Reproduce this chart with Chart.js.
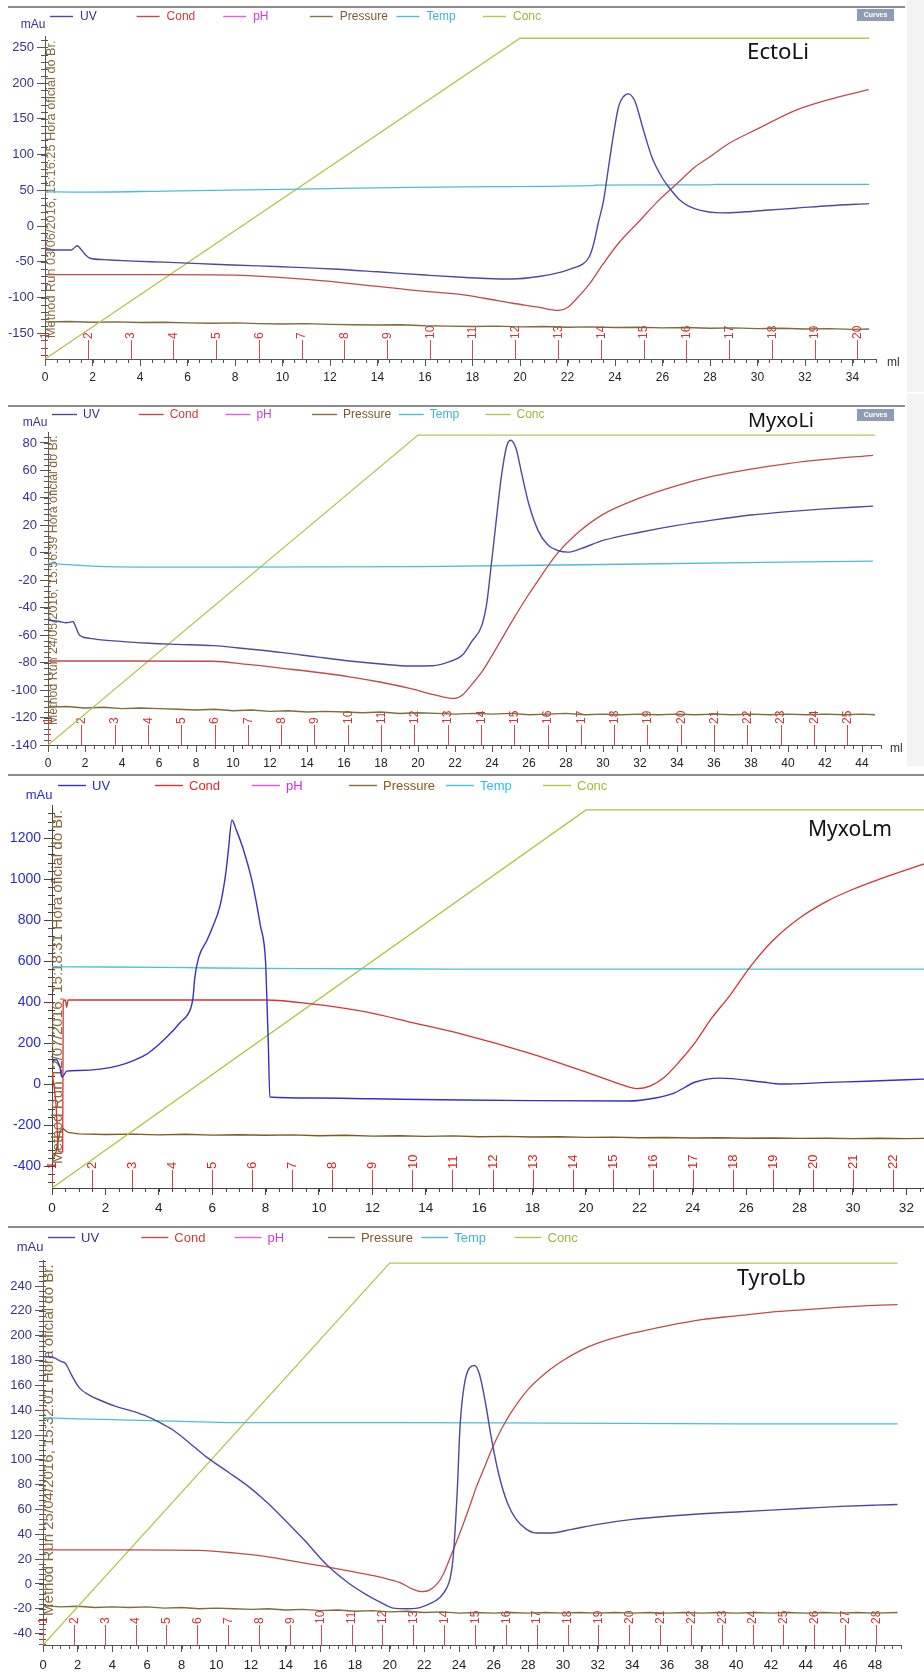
<!DOCTYPE html>
<html><head><meta charset="utf-8">
<script src="https://cdn.jsdelivr.net/npm/chart.js@4.4.1/dist/chart.umd.min.js"></script>
<style>
html,body{margin:0;padding:0;background:#fff}
body{width:924px;height:1675px;position:relative;overflow:hidden}
canvas{position:absolute;left:0}
.strip{position:absolute;left:907px;width:17px;background:#f3f3f3}
</style></head><body>
<div class="strip" style="top:0;height:392px"></div>
<div class="strip" style="top:394px;height:372px"></div>
<canvas id="c1"></canvas>
<canvas id="c2"></canvas>
<canvas id="c3"></canvas>
<canvas id="c4"></canvas>
<script>
// ======================= DATA =======================
const legendNames = ['UV','Cond','pH','Pressure','Temp','Conc'];

// ---- EctoLi ----
const ectoXTicks = [0,2,4,6,8,10,12,14,16,18,20,22,24,26,28,30,32,34];
const ectoYTicks = [-150,-100,-50,0,50,100,150,200,250];
const ectoFracs = [0,1.8,3.6,5.4,7.2,9,10.8,12.6,14.4,16.2,18,19.8,21.6,23.4,25.2,27,28.8,30.6,32.4,34.2];
const ectoUV = [[0,-33.5],[1.1,-33.5],[1.25,-30],[1.36,-27.5],[1.5,-32],[1.7,-40],[1.9,-45],[2.5,-47],[3.7,-49],[5,-50.5],[6.5,-52.5],[7.9,-54.5],[10,-57],[12.1,-60],[14,-64],[16,-68.5],[17.56,-71.7],[18.6,-73.3],[19.66,-74],[20.8,-70.5],[21.77,-64],[22.3,-58],[22.6,-54],[22.9,-44],[23.1,-25],[23.3,5],[23.52,36],[23.73,83],[23.94,129],[24.15,167],[24.35,181],[24.58,185],[24.75,180],[24.85,174],[25.2,134],[25.56,96],[25.98,68],[26.3,53],[26.74,36],[27.1,28],[27.6,22],[28.4,18.5],[29.5,20],[30.5,22.5],[31.6,25],[33,28.5],[34.7,31.5]];
const ectoCond = [[0,-68],[5,-68],[8,-68.5],[9,-70],[10,-72],[11,-74.5],[12,-77.5],[13,-81],[14,-84.5],[15,-88],[16,-91.5],[17.56,-96],[18.5,-101],[19.7,-108],[20.7,-113],[21.63,-118],[22.0,-114],[22.4,-101],[22.9,-82],[23.5,-53],[24.15,-24],[25.0,6],[25.84,36],[26.5,56],[27.38,83],[28.0,97],[28.79,115.5],[30,136],[31.6,162],[33,177],[34.68,191]];
const ectoTemp = [[0,48],[1.5,47.5],[5,49],[10,51.5],[17.56,55],[23,56.5],[23.2,57.3],[28,57.8],[28.2,58.3],[34.7,58.3]];
const ectoPressure = [[0,-134],[1,-133.5],[2,-134.5],[3,-134],[4,-135],[5,-134.5],[6,-135.5],[7,-136],[8,-135.5],[9,-136.5],[10,-137],[11,-136.5],[12,-137.5],[13,-138],[14,-138.5],[15,-138],[16,-139.5],[17,-140],[18,-140.5],[19,-140],[20,-141],[21,-140.5],[22,-141.5],[23,-141],[24,-142],[25,-141.5],[26,-142.5],[27,-142],[28,-143],[29,-142.5],[30,-143.5],[31,-143],[32,-144],[33,-143.5],[34,-144.5],[34.7,-144]];
const ectoConc = [[0,0],[20,100],[34.7,100]];

// ---- MyxoLi ----
const myxoLiXTicks = [0,2,4,6,8,10,12,14,16,18,20,22,24,26,28,30,32,34,36,38,40,42,44];
const myxoLiYTicks = [-140,-120,-100,-80,-60,-40,-20,0,20,40,60,80];
const myxoLiFracs = [0,1.8,3.6,5.4,7.2,9,10.8,12.6,14.4,16.2,18,19.8,21.6,23.4,25.2,27,28.8,30.6,32.4,34.2,36,37.8,39.6,41.4,43.2];
const myxoLiUV = [[0,-49],[0.6,-50],[1.0,-51],[1.2,-50.5],[1.35,-50],[1.5,-54],[1.71,-60],[2.26,-62.3],[3.35,-64],[5.5,-65.9],[7,-66.7],[8.92,-67.6],[10.8,-70],[12.7,-72.7],[14.5,-75.8],[16.3,-78.8],[18,-81],[19.56,-82.5],[20.8,-82.3],[21.7,-79.3],[22.4,-74.5],[22.9,-64.7],[23.46,-52.5],[23.73,-35.5],[23.9,-16],[24.2,20],[24.5,55],[24.8,78],[25.0,82],[25.3,76],[25.6,58],[26.0,35],[26.5,16],[27.0,6],[27.6,1.5],[28.1,0.5],[28.8,3],[30,9],[32,15],[34,20],[36,24],[38,27.5],[40,30],[42,32],[44.6,34]];
const myxoLiCond = [[0,-78.8],[4,-78.8],[8.92,-79],[10.8,-81.3],[12.7,-84.2],[14.5,-87],[16.3,-90.3],[18,-94.3],[19.56,-98.8],[20.6,-102.5],[21.6,-105.6],[22.0,-106],[22.4,-103.6],[22.9,-96],[23.46,-86.6],[24.3,-68],[25.08,-50],[25.9,-32],[26.7,-16],[27.5,-1],[28.5,13],[30,28],[32,40],[34,49],[36,56],[38,61],[40,65],[42,68],[44.6,71]];
const myxoLiTemp = [[0,-7.5],[1.5,-9],[3,-10],[10,-10.5],[20,-10],[30,-8.5],[44.6,-6]];
const myxoLiPressure = [[0,-112.5],[1,-112],[2,-113],[3,-112.5],[4,-113.5],[5,-113],[6,-113.5],[7,-114],[8,-114.5],[9,-114],[10,-115],[11,-114.5],[12,-115.5],[13,-115],[14,-116],[15,-115.5],[16,-116],[17,-116.5],[18,-116],[19,-117],[20,-116.5],[21,-117],[22,-117.5],[23,-117],[24,-117.5],[25,-117],[26,-118],[27,-117.5],[28,-117],[29,-118],[30,-117.5],[31,-118],[32,-117.5],[33,-118],[34,-117.5],[35,-118],[36,-117.5],[37,-118],[38,-117.5],[39,-118],[40,-117.5],[41,-118],[42,-117.5],[43,-118],[44,-117.5],[44.7,-118]];
const myxoLiConc = [[0,0],[20,100],[44.7,100]];

// ---- MyxoLm ----
const myxoLmXTicks = [0,2,4,6,8,10,12,14,16,18,20,22,24,26,28,30,32];
const myxoLmYTicks = [-400,-200,0,200,400,600,800,1000,1200];
const myxoLmFracs = [0,1.5,3,4.5,6,7.5,9,10.5,12,13.5,15,16.5,18,19.5,21,22.5,24,25.5,27,28.5,30,31.5];
const myxoLmUV = [[0,110],[0.15,120],[0.3,80],[0.37,34],[0.45,45],[0.55,63],[1.0,66],[1.8,73],[2.5,90],[3.0,112],[3.6,150],[4.3,229],[4.8,300],[5.2,371],[5.28,420],[5.35,520],[5.5,620],[5.8,700],[6.0,761],[6.3,873],[6.5,1020],[6.6,1132],[6.74,1288],[6.9,1240],[7.15,1151],[7.5,985],[7.8,776],[8.0,595],[8.04,449],[8.1,205],[8.16,-63],[9.8,-68],[12,-72],[15.35,-78],[18,-81],[21.6,-83],[22.6,-68],[23.3,-44],[24.1,10],[25.0,29],[26.6,10],[27.3,0],[29.1,8],[30.5,14],[32.7,24]];
const myxoLmCond = [[0,60],[0.15,-100],[0.25,-330],[0.4,-332],[0.42,405],[0.5,410],[0.55,375],[0.6,410],[3,410],[6,410],[8,410],[9.8,390],[11.8,351],[13.5,300],[15.35,244],[17.9,150],[20.3,45],[21.5,-10],[21.9,-22],[22.4,-10],[22.9,29],[23.5,110],[24.1,205],[24.7,320],[25.4,434],[26.2,580],[27,700],[28,810],[29,890],[30,950],[31,1000],[32,1045],[32.7,1075]];
const myxoLmTemp = [[0,572],[2,571],[4,569],[6,566],[8,564],[10,563],[15,561],[20,561],[25,561],[32.7,561]];
const myxoLmPressure = [[0,-380],[0.15,-330],[0.3,-230],[0.4,-215],[0.6,-236],[1,-243],[2,-246],[3,-244],[4,-248],[5,-245],[6,-249],[7,-247],[8,-250],[9,-248],[10,-252],[11,-250],[12,-254],[13,-252],[14,-255],[15,-253],[16,-257],[17,-255],[18,-258],[19,-257],[20,-260],[21,-259],[22,-262],[23,-261],[24,-263],[25,-262],[26,-264],[27,-263],[28,-265],[29,-264],[30,-266],[31,-264],[32,-266],[32.7,-265]];
const myxoLmConc = [[0,0],[20,100],[32.7,100]];

// ---- TyroLb ----
const tyroXTicks = [0,2,4,6,8,10,12,14,16,18,20,22,24,26,28,30,32,34,36,38,40,42,44,46,48];
const tyroYTicks = [-40,-20,0,20,40,60,80,100,120,140,160,180,200,220,240];
const tyroFracs = [0,1.78,3.56,5.34,7.12,8.9,10.68,12.46,14.24,16.02,17.8,19.58,21.36,23.14,24.92,26.7,28.48,30.26,32.04,33.82,35.6,37.38,39.16,40.94,42.72,44.5,46.28,48.06];
const tyroUV = [[0,183],[0.4,183],[1.1,179],[1.27,178],[1.45,174],[1.66,168],[2.1,158],[2.7,152],[3.3,148],[4.2,143],[5.2,139],[6.0,135],[6.75,130],[7.5,124],[8.5,113],[9.46,102],[10.7,90],[11.9,78],[12.9,66],[13.85,53],[15.1,35],[16.4,15],[17.6,1],[18.7,-9],[19.5,-15],[20.2,-19.5],[21.0,-20],[21.6,-19.5],[22.3,-16],[22.9,-11],[23.3,-3],[23.5,5],[23.66,21],[23.9,75],[24.06,127],[24.3,160],[24.6,174],[24.9,176],[25.2,168],[25.5,148],[25.9,115],[26.3,88],[26.8,65],[27.3,52],[27.9,44],[28.5,41],[29.3,41],[30.5,44],[32,48],[34,52],[36,54.5],[38,56.5],[40,58],[42,59.5],[44,61],[46,62.5],[48,63.5],[49.3,64]];
const tyroCond = [[0,27.5],[5,27.5],[9,27],[11,25],[12.9,22],[15,17],[16.7,13],[18,9.5],[19.6,5],[20.6,1],[21.3,-4],[21.85,-6.2],[22.3,-5],[22.8,1],[23.1,8],[23.4,18],[23.8,32],[24.16,45],[24.6,62],[25,78],[25.5,95],[26,112],[26.5,126],[27,138],[28,157],[29,170],[30,180],[31,188],[32,194],[34,202],[36,208],[38,213],[40,216],[42,219],[44,221],[46,223],[48,224.5],[49.3,225]];
const tyroTemp = [[0,134],[2,133],[5,132],[8,131],[11,130],[20,130],[30,129.5],[40,129],[49.3,129]];
const tyroPressure = [[0,-17.5],[1,-18.5],[2,-18],[3,-19],[4,-18.5],[5,-19],[6,-18.5],[7,-19.5],[8,-19],[9,-20],[10,-19.5],[11,-20],[12,-20.5],[13,-20],[14,-21],[15,-20.5],[16,-21.5],[17,-21],[18,-22],[19,-21.5],[20,-22.5],[21,-22],[22,-23],[23,-22.5],[24,-23.5],[25,-23],[26,-23.5],[27,-23],[28,-23.5],[29,-23],[30,-23.5],[31,-23],[32,-23.5],[33,-23],[34,-23.5],[35,-23],[36,-23.5],[37,-23],[38,-23.5],[39,-23],[40,-23.5],[41,-23],[42,-23.5],[43,-23],[44,-23.5],[45,-23],[46,-23.5],[47,-23],[48,-23.5],[49.3,-23]];
const tyroConc = [[0,0],[20,100],[49.3,100]];

// ======================= RENDERING =======================
const FONT = '"Liberation Sans", Arial, sans-serif';
const TFONT = '"Noto Sans", "Open Sans", sans-serif';
Chart.defaults.font.family = FONT;

const palA = {uv:'#4a4a9e', cond:'#c24a4a', ph:'#e060e0', pres:'#7e6c3c', temp:'#4dbdd6', conc:'#b2c64e',
  leg:['#2f2f85','#cc3b3b','#d23cd2','#7b5a2e','#3fb4cf','#9cb53a'],
  legLine:['#4a4a9e','#c24a4a','#e060e0','#8a7048','#4dbdd6','#b2c64e'], yc:'#34348c', frac:'#d03434', fracLine:'#c85050'};
const palB = {uv:'#3232c8', cond:'#d93333', ph:'#e050e0', pres:'#7b5c22', temp:'#45c3e2', conc:'#a6c83a',
  leg:['#2828c8','#e02828','#d828d8','#8a5a18','#30c0e0','#98c030'],
  legLine:['#3232c8','#d93333','#e050e0','#8a6a3a','#45c3e2','#a6c83a'], yc:'#2a2ad0', frac:'#e02020', fracLine:'#e03a3a'};

function fitSize(ctx, text, family, target, base){
  ctx.font = base + 'px ' + family;
  const w = ctx.measureText(text).width;
  return base * target / w;
}

function deco(P){
  const T = P.top;
  return {
    id: 'deco',
    beforeDatasetsDraw(chart){
      const c = chart.ctx, xs = chart.scales.x, ys = chart.scales.y, a = chart.chartArea;
      c.save();
      c.strokeStyle = P.axisColor; c.lineWidth = 1;
      c.beginPath();
      for (let k = 0; k * P.xMinor <= P.xMax + 1e-6; k++) {
        const px = Math.round(xs.getPixelForValue(k * P.xMinor)) + 0.5;
        c.moveTo(px, a.bottom); c.lineTo(px, a.bottom + 4);
      }
      const k0 = Math.ceil(P.yMinorFrom / P.yMinor), k1 = Math.floor(P.yMinorTo / P.yMinor);
      for (let k = k0; k <= k1; k++) {
        const py = Math.round(ys.getPixelForValue(k * P.yMinor)) + 0.5;
        c.moveTo(a.left - 4, py); c.lineTo(a.left + 3, py);
      }
      c.stroke();
      c.strokeStyle = P.pal.fracLine; c.lineWidth = 1;
      c.beginPath();
      P.fracs.forEach(f => {
        const px = Math.round(xs.getPixelForValue(f)) + 0.5;
        c.moveTo(px, a.bottom); c.lineTo(px, a.bottom - P.fracLen);
      });
      c.stroke();
      c.fillStyle = P.pal.frac; c.font = P.fracSize + 'px ' + FONT;
      c.textAlign = 'left'; c.textBaseline = 'middle';
      P.fracs.forEach((f, i) => {
        const px = xs.getPixelForValue(f);
        c.save(); c.translate(px + 0.5, a.bottom - P.fracLen - 1); c.rotate(-Math.PI / 2);
        c.fillText(String(i + 1), 0, 0); c.restore();
      });
      const rs = fitSize(c, P.runText, FONT, P.runLen, 12);
      c.font = rs + 'px ' + FONT; c.fillStyle = '#8a6a3c'; c.textBaseline = 'alphabetic'; c.textAlign = 'left';
      c.save(); c.translate(P.runX, P.runY - T); c.rotate(-Math.PI / 2); c.fillText(P.runText, 0, 0); c.restore();
      c.restore();
    },
    afterDraw(chart){
      const c = chart.ctx;
      c.save();
      c.strokeStyle = '#8c8c8c'; c.lineWidth = 2;
      c.beginPath(); c.moveTo(P.border.x0, P.border.y - T); c.lineTo(P.border.x1, P.border.y - T); c.stroke();
      c.textBaseline = 'middle'; c.textAlign = 'left'; c.font = P.leg.size + 'px ' + FONT;
      legendNames.forEach((n, i) => {
        const x = P.leg.x + i * P.leg.step, y = P.leg.y - T;
        c.strokeStyle = P.pal.legLine[i]; c.lineWidth = 1.4;
        c.beginPath(); c.moveTo(x, y + 0.5); c.lineTo(x + P.leg.len, y + 0.5); c.stroke();
        c.fillStyle = P.pal.leg[i]; c.fillText(n, x + P.leg.len + P.leg.gap, y + 1);
      });
      c.fillStyle = P.pal.yc; c.font = P.mau.size + 'px ' + FONT; c.textAlign = 'center';
      c.fillText('mAu', P.mau.x, P.mau.y - T);
      if (P.ml) { c.fillStyle = '#333'; c.font = '12px ' + FONT; c.textAlign = 'left'; c.fillText('ml', P.ml.x, P.ml.y - T); }
      const ts = fitSize(c, P.title.text, TFONT, P.title.w, 20);
      c.fillStyle = '#111'; c.font = ts + 'px ' + TFONT; c.textAlign = 'left'; c.textBaseline = 'middle';
      c.fillText(P.title.text, P.title.x, P.title.y - T);
      if (P.curves) {
        c.fillStyle = '#8e9cb6'; c.fillRect(P.curves.x, P.curves.y - T, P.curves.w, P.curves.h);
        c.fillStyle = '#ffffff'; c.font = 'bold 7px ' + FONT; c.textAlign = 'center';
        c.fillText('Curves', P.curves.x + P.curves.w / 2, P.curves.y - T + P.curves.h / 2 + 0.5);
      }
      c.restore();
    }
  };
}

function build(P){
  const cv = document.getElementById(P.id);
  cv.width = P.cw; cv.height = P.ch;
  cv.style.width = P.cw + 'px'; cv.style.height = P.ch + 'px'; cv.style.top = P.top + 'px';
  const A = P.area, T = P.top;
  const mk = (label, data, color, w, axis, smooth) => ({label, data, borderColor: color, borderWidth: w,
    pointRadius: 0, fill: false, tension: 0, cubicInterpolationMode: smooth ? 'monotone' : 'default', yAxisID: axis});
  const S = P.data, pal = P.pal;
  const datasets = [
    mk('UV', S.uv, pal.uv, 1.4, 'y', true),
    mk('Cond', S.cond, pal.cond, 1.3, 'y', true),
    mk('pH', [], pal.ph, 1.3, 'y', false),
    mk('Temp', S.temp, pal.temp, 1.3, 'y', true),
    mk('Conc', S.conc, pal.conc, 1.3, 'yc', false),
    mk('Pressure', S.pres, pal.pres, 1.4, 'y', false)
  ];
  return new Chart(cv, {
    type: 'line',
    data: {datasets},
    options: {
      responsive: false, animation: false, devicePixelRatio: 1, events: [],
      layout: {padding: {top: A.top - T, right: P.cw - A.right, left: 0, bottom: 0}},
      plugins: {legend: {display: false}, tooltip: {enabled: false}},
      scales: {
        x: {type: 'linear', min: 0, max: P.xMax,
          afterFit: s => { s.height = P.ch - (A.bottom - T); },
          afterBuildTicks: s => { s.ticks = P.xTicks.map(v => ({value: v})); },
          ticks: {color: '#222', font: {size: P.xFont}, padding: P.xPad, maxRotation: 0, autoSkip: false, callback: v => String(v)},
          grid: {display: true, drawOnChartArea: false, drawTicks: true, tickLength: 7, color: P.axisColor},
          border: {display: true, color: P.axisColor, width: 1}},
        y: {type: 'linear', min: P.yMin, max: P.yMax,
          afterFit: s => { s.width = A.left; },
          afterBuildTicks: s => { s.ticks = P.yTicks.map(v => ({value: v})); },
          ticks: {color: pal.yc, font: {size: P.yFont}, padding: 3, autoSkip: false, callback: v => String(v)},
          grid: {display: true, drawOnChartArea: false, drawTicks: true, tickLength: 8, color: P.axisColor},
          border: {display: true, color: P.axisColor, width: 1}},
        yc: {type: 'linear', display: false, position: 'right', min: 0, max: P.concMax, afterFit: s => { s.width = 0; }}
      }
    },
    plugins: [deco(P)]
  });
}

build({
  id: 'c1', top: 0, cw: 924, ch: 392, pal: palA, axisColor: '#555',
  area: {left: 45, top: 36, right: 876.25, bottom: 359},
  xMax: 35, xTicks: ectoXTicks, xMinor: 0.5, xFont: 12, xPad: 4,
  yMin: -186, yMax: 266, yTicks: ectoYTicks, yMinor: 10, yMinorFrom: -180, yMinorTo: 262, yFont: 13,
  concMax: 100.7,
  data: {uv: ectoUV, cond: ectoCond, temp: ectoTemp, pres: ectoPressure, conc: ectoConc},
  fracs: ectoFracs, fracLen: 19, fracSize: 12,
  runText: 'Method Run 03/06/2016, 15:16:25 Hora oficial do Br.', runX: 55, runY: 338, runLen: 298,
  border: {y: 7, x0: 8, x1: 905},
  leg: {x: 50, y: 16, step: 86.6, len: 23, gap: 7, size: 12},
  mau: {x: 33, y: 25, size: 12},
  ml: {x: 887, y: 363},
  title: {text: 'EctoLi', x: 747, y: 53, w: 62},
  curves: {x: 857, y: 9, w: 37, h: 12}
});

build({
  id: 'c2', top: 394, cw: 924, ch: 380, pal: palA, axisColor: '#555',
  area: {left: 48, top: 432, right: 880.5, bottom: 745},
  xMax: 45, xTicks: myxoLiXTicks, xMinor: 0.5, xFont: 12, xPad: 4,
  yMin: -140, yMax: 88, yTicks: myxoLiYTicks, yMinor: 4, yMinorFrom: -140, yMinorTo: 86, yFont: 13,
  concMax: 101,
  data: {uv: myxoLiUV, cond: myxoLiCond, temp: myxoLiTemp, pres: myxoLiPressure, conc: myxoLiConc},
  fracs: myxoLiFracs, fracLen: 20, fracSize: 12,
  runText: 'Method Run 24/05/2016, 15:56:39 Hora oficial do Br.', runX: 57, runY: 725, runLen: 290,
  border: {y: 406, x0: 8, x1: 905},
  leg: {x: 52, y: 414, step: 86.7, len: 25, gap: 6, size: 12},
  mau: {x: 35, y: 423, size: 12},
  ml: {x: 890, y: 749},
  title: {text: 'MyxoLi', x: 748, y: 421, w: 66},
  curves: {x: 857, y: 409, w: 37, h: 12}
});

build({
  id: 'c3', top: 767, cw: 950, ch: 455, pal: palB, axisColor: '#444',
  area: {left: 52, top: 805, right: 924, bottom: 1188},
  xMax: 32.66, xTicks: myxoLmXTicks, xMinor: 0.5, xFont: 13.5, xPad: 5,
  yMin: -507, yMax: 1361, yTicks: myxoLmYTicks, yMinor: 40, yMinorFrom: -500, yMinorTo: 1320, yFont: 14,
  concMax: 101.3,
  data: {uv: myxoLmUV, cond: myxoLmCond, temp: myxoLmTemp, pres: myxoLmPressure, conc: myxoLmConc},
  fracs: myxoLmFracs, fracLen: 18, fracSize: 13,
  runText: 'Method Run 12/07/2016, 15:18:31 Hora oficial do Br.', runX: 62, runY: 1164, runLen: 354,
  border: {y: 775, x0: 8, x1: 924},
  leg: {x: 58, y: 785, step: 97, len: 28, gap: 6, size: 13},
  mau: {x: 39, y: 795, size: 13},
  ml: null,
  title: {text: 'MyxoLm', x: 808, y: 830, w: 84},
  curves: null
});

build({
  id: 'c4', top: 1222, cw: 924, ch: 453, pal: palA, axisColor: '#555',
  area: {left: 43, top: 1260, right: 901, bottom: 1645},
  xMax: 49.5, xTicks: tyroXTicks, xMinor: 0.5, xFont: 13, xPad: 6,
  yMin: -49.2, yMax: 261, yTicks: tyroYTicks, yMinor: 4, yMinorFrom: -48, yMinorTo: 260, yFont: 13,
  concMax: 100.8,
  data: {uv: tyroUV, cond: tyroCond, temp: tyroTemp, pres: tyroPressure, conc: tyroConc},
  fracs: tyroFracs, fracLen: 20, fracSize: 12,
  runText: 'Method Run 25/04/2016, 15:32:01 Hora oficial do Br.', runX: 53, runY: 1616, runLen: 352,
  border: {y: 1227, x0: 8, x1: 924},
  leg: {x: 48, y: 1237, step: 93.3, len: 27, gap: 6, size: 13},
  mau: {x: 30, y: 1247, size: 13},
  ml: null,
  title: {text: 'TyroLb', x: 737, y: 1279, w: 69},
  curves: null
});
</script>
</body></html>
